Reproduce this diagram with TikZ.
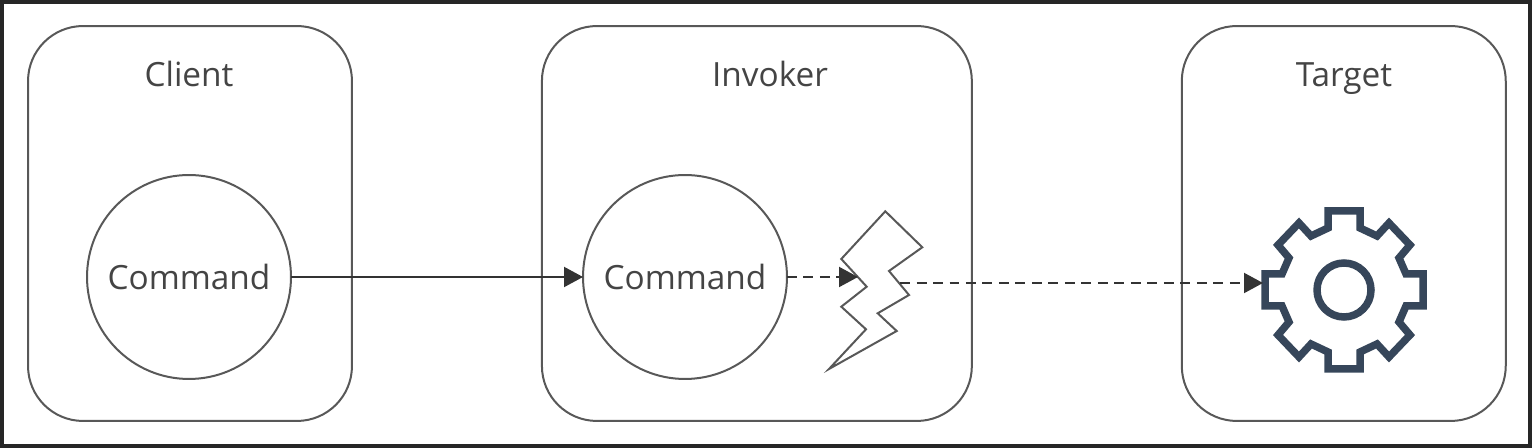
\documentclass[tikz,border=0pt]{standalone}
\usepackage{fontspec}
\setmainfont{Open Sans}
\usetikzlibrary{positioning,arrows.meta}
\definecolor{linegray}{HTML}{585858}
\definecolor{textgray}{HTML}{444444}
\definecolor{tipgray}{HTML}{333333}
\definecolor{gearblue}{HTML}{36465A}
\tikzset{
  x=0.02cm,y=-0.02cm,
  panel/.style={draw=linegray,line width=0.04cm,rounded corners=1.1cm,outer sep=0pt,minimum height=7.9cm},
  cmdcircle/.style={circle,draw=linegray,line width=0.04cm,outer sep=0pt,minimum size=4.08cm,inner sep=0pt,text=textgray,font=\fontsize{19}{22}\selectfont},
  title/.style={anchor=base,text=textgray,font=\fontsize{19}{22}\selectfont},
  link/.style={draw=tipgray,line width=0.04cm,->,>={Triangle[length=0.38cm,width=0.4cm]}},
  dashlink/.style={link,dash pattern=on 0.2cm off 0.13cm}
}
\begin{document}
\begin{tikzpicture}
\useasboundingbox (0,0) rectangle (1532,448);
% Frame
\draw[line width=0.08cm,draw=black!85] (2,2) rectangle (1530,446);
% Panels
\node[panel,minimum width=6.48cm] (client) at (190,223.5) {};
\node[panel,minimum width=8.6cm,right=3.8cm of client] (invoker) {};
\node[panel,minimum width=6.48cm,right=4.2cm of invoker] (target) {};
% Titles
\node[title] (clientT) at (189,87) {Client};
\node[title] (invokerT) at (770,87) {Invoker};
\node[title] (targetT) at (1344,87) {Target};
% Commands
\node[cmdcircle] (clientC) at (189,277) {Command};
\node[cmdcircle] (invokerC) at (685,277) {Command};
% Bolt
\draw[draw=linegray,line width=0.04cm,line join=miter,fill=white] (885.3,211.3) -- (922.3,247.3) -- (889,271) -- (909,295) -- (877.7,313.3) -- (896.7,331) -- (829,369) -- (866,329.3) -- (841.3,306.7) -- (866.7,286.7) -- (841.3,259) -- cycle;
\coordinate (boltIn) at (858,277);
\coordinate (boltOut) at (900,283);
% Gear
\begin{scope}[shift={(1344,290)},draw=gearblue,line width=0.15cm]
\node[circle,draw=gearblue,line width=0.15cm,minimum size=1.08cm,inner sep=0pt] (hub) at (0,0) {};
\draw (-16,-79) -- (16,-79) -- (16,-62) -- (33,-54) -- (45,-67) -- (66,-45) -- (55,-32) -- (62,-16) -- (79,-16) -- (79,16) -- (62,16) -- (55,32) -- (66,45) -- (45,67) -- (33,54) -- (16,62) -- (16,79) -- (-16,79) -- (-16,62) -- (-33,54) -- (-45,67) -- (-66,45) -- (-55,32) -- (-62,16) -- (-79,16) -- (-79,-16) -- (-62,-16) -- (-55,-32) -- (-66,-45) -- (-45,-67) -- (-33,-54) -- (-16,-62) -- cycle;
\coordinate (gearIn) at (-81,-7);
\end{scope}
% Arrows
\draw[link] (clientC) -- (invokerC);
\draw[dashlink] (invokerC.east) -- (boltIn);
\draw[dashlink] (boltOut) -- (gearIn);
\end{tikzpicture}
\end{document}
